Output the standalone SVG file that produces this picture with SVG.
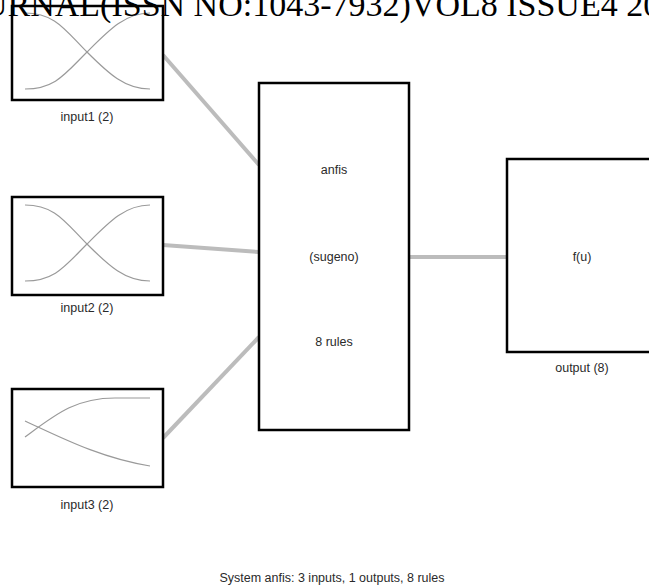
<svg xmlns="http://www.w3.org/2000/svg" width="649" height="588" viewBox="0 0 649 588">
<style>
.box{fill:#fff;stroke:#000;stroke-width:2.5}
.mf{fill:none;stroke:#9a9a9a;stroke-width:1.2}
.lbl{font-family:"Liberation Sans",Arial,sans-serif;font-size:12.5px;fill:#2a2a2a;text-anchor:middle}
.conn{stroke:#bcbcbc;stroke-width:4;fill:none}
.hdr{font-family:"Liberation Serif","Times New Roman",serif;font-size:34px;fill:#000}
</style>
<rect width="649" height="588" fill="#fff"/>
<g id="connectors">
<line class="conn" x1="163" y1="55" x2="259" y2="165"/>
<line class="conn" x1="163" y1="245" x2="259" y2="252"/>
<line class="conn" x1="163" y1="438" x2="259" y2="337"/>
<line class="conn" x1="409" y1="257" x2="507" y2="257"/>
</g>
<g id="input1">
<rect class="box" x="12" y="6" width="151" height="94"/>
<path class="mf" d="M25,13 C55,13 65,30 87,52 S125,89 150,89"/>
<path class="mf" d="M25,89 C55,89 65,74 87,52 S125,13 150,13"/>
<text class="lbl" x="87" y="121">input1 (2)</text>
</g>
<g id="input2">
<rect class="box" x="12" y="197" width="151" height="98"/>
<path class="mf" d="M25,205 C55,205 65,222 87,244 S125,281 150,281"/>
<path class="mf" d="M25,281 C55,281 65,266 87,244 S125,205 150,205"/>
<text class="lbl" x="87" y="312">input2 (2)</text>
</g>
<g id="input3">
<rect class="box" x="12" y="389" width="151" height="98"/>
<path class="mf" d="M25,437 C55,415 75,398 115,398 L150,398"/>
<path class="mf" d="M25,421 C60,437 100,458 150,466"/>
<text class="lbl" x="87" y="509">input3 (2)</text>
</g>
<g id="anfis">
<rect class="box" x="259" y="83" width="150" height="347"/>
<text class="lbl" x="334" y="174">anfis</text>
<text class="lbl" x="334" y="261">(sugeno)</text>
<text class="lbl" x="334" y="346">8 rules</text>
</g>
<g id="output">
<rect class="box" x="507" y="159" width="150" height="193"/>
<text class="lbl" x="582" y="261">f(u)</text>
<text class="lbl" x="582" y="372">output (8)</text>
</g>
<text class="lbl" x="332" y="582">System anfis: 3 inputs, 1 outputs, 8 rules</text>
<text class="hdr" x="-17" y="16">URNAL(ISSN NO:1043-7932)VOL8 ISSUE4 20</text>
</svg>
